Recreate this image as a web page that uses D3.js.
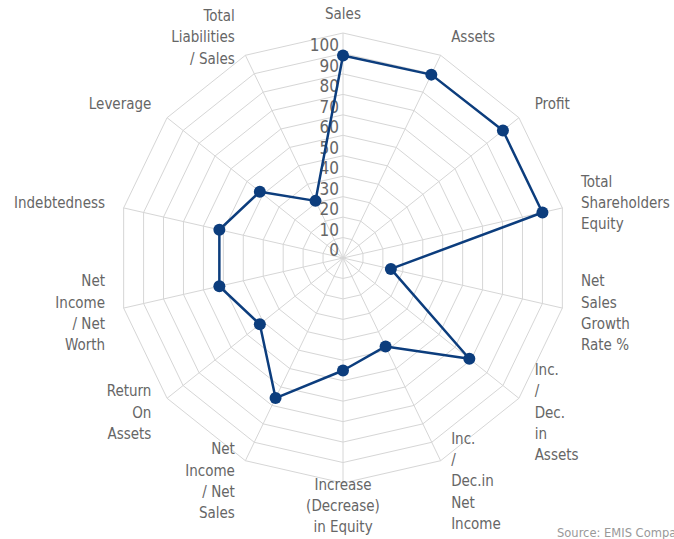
<!DOCTYPE html>
<html>
<head>
  <meta charset="utf-8">
  <title>Radar</title>
  <script src="https://d3js.org/d3.v7.min.js"></script>
  <style>
    body { margin: 0; background: #fff; }
    text { font-family: "DejaVu Sans Condensed", "DejaVu Sans", sans-serif; font-stretch: condensed; }
  </style>
</head>
<body>
  <script>
    // categories (line breaks as in the chart)
    var categories = [
      'Sales', 'Assets', 'Profit', 'Total\nShareholders\nEquity',
      'Net\nSales\nGrowth\nRate %', 'Inc.\n/\nDec.\nin\nAssets',
      'Inc.\n/\nDec.in\nNet\nIncome', 'Increase\n(Decrease)\nin Equity',
      'Net\nIncome\n/ Net\nSales', 'Return\nOn\nAssets',
      'Net\nIncome\n/ Net\nWorth', 'Indebtedness', 'Leverage',
      'Total\nLiabilities\n/ Sales'
    ];
    var values = [99, 99.5, 100, 100, 24, 79, 48, 55, 76, 52, 62, 62, 52, 31];
    var tickValues = [0, 10, 20, 30, 40, 50, 60, 70, 80, 90, 100];
    var ringValues = [10, 20, 30, 40, 50, 60, 70, 80, 90, 100, 110];

    var width = 674, height = 539;
    var cx = 343, cy = 258;
    var color = '#0c3d7d';

    var svg = d3.select('body').append('svg')
      .attr('width', width)
      .attr('height', height);

    var g = svg.append('g').attr('transform', 'translate(' + cx + ',' + cy + ')');

    var r = d3.scaleLinear().domain([0, 110]).range([0, 225]);
    var angle = d3.scaleLinear().domain([0, categories.length]).range([0, 2 * Math.PI]);

    // rings
    var ring = d3.lineRadial()
      .angle(function(d, i) { return angle(i); })
      .radius(function(d) { return r(d); })
      .curve(d3.curveLinearClosed);

    g.selectAll('.ring')
      .data(ringValues)
      .enter().append('path')
      .attr('class', 'ring')
      .attr('d', function(v) { return ring(categories.map(function() { return v; })); })
      .attr('fill', 'none')
      .attr('stroke', '#d6d6d6')
      .attr('stroke-width', 1);

    // spokes
    g.selectAll('.spoke')
      .data(categories)
      .enter().append('line')
      .attr('class', 'spoke')
      .attr('x1', 0).attr('y1', 0)
      .attr('x2', function(d, i) { return r(110) * Math.sin(angle(i)); })
      .attr('y2', function(d, i) { return -r(110) * Math.cos(angle(i)); })
      .attr('stroke', '#d6d6d6')
      .attr('stroke-width', 1);

    // tick labels
    g.selectAll('.tick')
      .data(tickValues)
      .enter().append('text')
      .attr('class', 'tick')
      .attr('x', -4)
      .attr('y', function(v) { return -r(v) - 2; })
      .attr('text-anchor', 'end')
      .attr('fill', '#666')
      .style('font-size', '17px')
      .text(function(v) { return v; });

    // category labels
    var lh = 21.3;
    var labelR = r(110) + 15;
    g.selectAll('.cat')
      .data(categories)
      .enter().append('text')
      .attr('class', 'cat')
      .attr('fill', '#666')
      .style('font-size', '15px')
      .each(function(d, i) {
        var a = angle(i);
        var s = Math.sin(a), c = Math.cos(a);
        var x = labelR * s, y = -labelR * c;
        var anchor = 'middle';
        if (s > 0.01) { anchor = 'start'; x += 4; }
        else if (s < -0.01) { anchor = 'end'; x -= 4; }
        var off = c > 0 ? -4.5 * Math.min(1, 1.5 * c) : -8 * c;
        var lines = d.split('\n');
        var y0 = y + off - (lines.length - 1) * lh / 2 + 5;
        var t = d3.select(this).attr('text-anchor', anchor);
        lines.forEach(function(line, k) {
          t.append('tspan').attr('x', x).attr('y', y0 + k * lh).text(line);
        });
      });

    // series
    var line = d3.lineRadial()
      .angle(function(d, i) { return angle(i); })
      .radius(function(d) { return r(d); })
      .curve(d3.curveLinearClosed);

    g.append('path')
      .datum(values)
      .attr('d', line)
      .attr('fill', 'none')
      .attr('stroke', color)
      .attr('stroke-width', 2.5)
      .attr('stroke-linejoin', 'round');

    g.selectAll('.dot')
      .data(values)
      .enter().append('circle')
      .attr('class', 'dot')
      .attr('cx', function(d, i) { return r(d) * Math.sin(angle(i)); })
      .attr('cy', function(d, i) { return -r(d) * Math.cos(angle(i)); })
      .attr('r', 6)
      .attr('fill', color);

    // source credit, cut at the right edge as in the original
    svg.append('text')
      .attr('x', 557)
      .attr('y', 537)
      .attr('fill', '#999')
      .style('font-size', '12.8px')
      .text('Source: EMIS Company');
  </script>
</body>
</html>
